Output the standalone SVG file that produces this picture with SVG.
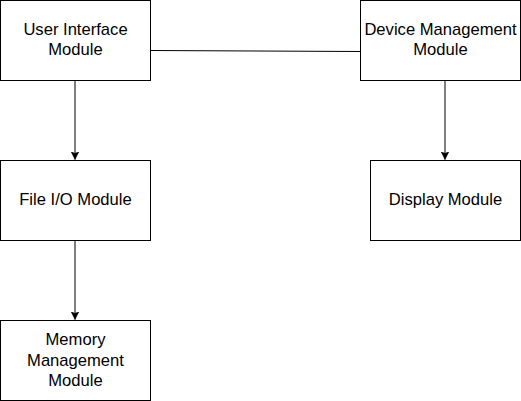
<svg xmlns="http://www.w3.org/2000/svg" width="521" height="401" viewBox="0 0 521 401">
  <style>
    .box { fill: #ffffff; stroke: #000000; stroke-width: 1; }
    .lbl { font-family: "Liberation Sans", Arial, sans-serif; font-size: 16.6px; fill: #000000; text-anchor: middle; }
    .edge { fill: none; stroke: #000000; stroke-width: 1; }
  </style>
  <defs>
    <marker id="arrow" markerWidth="10" markerHeight="10" refX="8" refY="4" orient="auto" markerUnits="userSpaceOnUse">
      <path d="M0,0 L8,4 L0,8 L2,4 Z" fill="#000000" stroke="#000000" stroke-width="0.5"/>
    </marker>
  </defs>
  <rect width="521" height="401" fill="#ffffff"/>
  <g id="connectors">
    <line class="edge" x1="150.5" y1="50.5" x2="362" y2="51.5"/>
    <line class="edge" x1="75" y1="80.5" x2="75" y2="159.5" marker-end="url(#arrow)"/>
    <line class="edge" x1="75" y1="240.5" x2="75" y2="319.5" marker-end="url(#arrow)"/>
    <line class="edge" x1="445" y1="80.5" x2="445" y2="159.5" marker-end="url(#arrow)"/>
  </g>
  <g id="user-interface">
    <rect class="box" x="0.5" y="0.5" width="150" height="80"/>
    <text class="lbl" x="75.5"><tspan x="75.5" y="34.5">User Interface</tspan><tspan x="75.5" y="55">Module</tspan></text>
  </g>
  <g id="device-management">
    <rect class="box" x="360.5" y="0.5" width="160" height="80"/>
    <text class="lbl" x="440.5"><tspan x="440.5" y="34.5">Device Management</tspan><tspan x="440.5" y="55">Module</tspan></text>
  </g>
  <g id="file-io">
    <rect class="box" x="0.5" y="160.5" width="150" height="80"/>
    <text class="lbl" x="75.5" y="205">File I/O Module</text>
  </g>
  <g id="display">
    <rect class="box" x="370.5" y="160.5" width="150" height="80"/>
    <text class="lbl" x="445.5" y="205">Display Module</text>
  </g>
  <g id="memory-management">
    <rect class="box" x="0.5" y="320.5" width="150" height="80"/>
    <text class="lbl" x="75.5"><tspan x="75.5" y="345">Memory</tspan><tspan x="75.5" y="365.5">Management</tspan><tspan x="75.5" y="386">Module</tspan></text>
  </g>
</svg>
